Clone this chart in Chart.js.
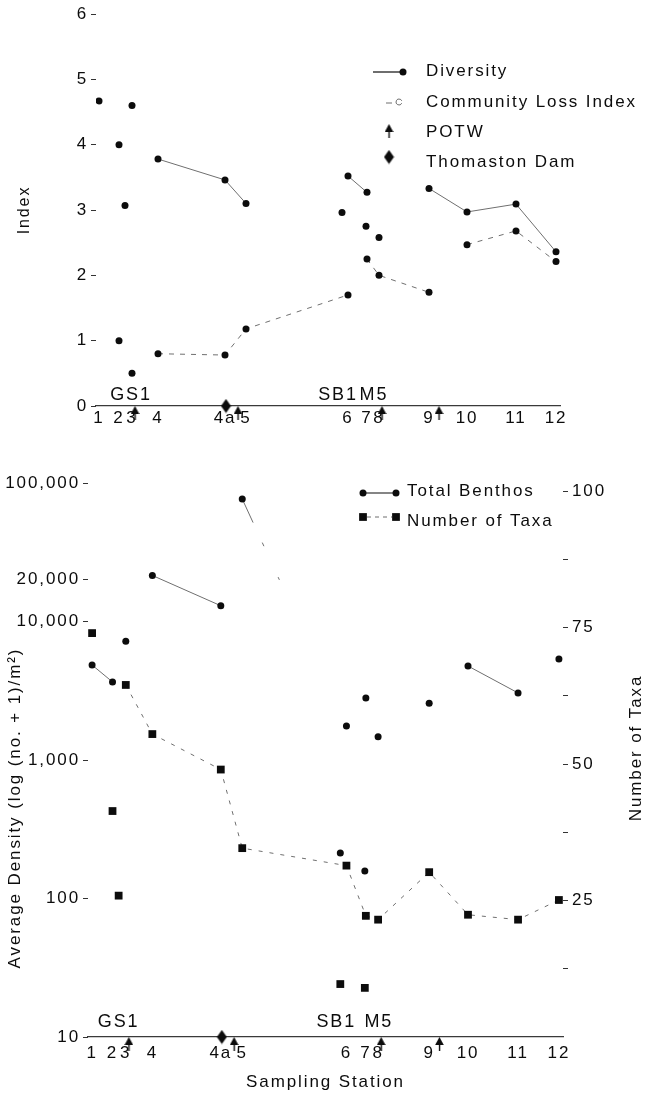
<!DOCTYPE html>
<html>
<head>
<meta charset="utf-8">
<script src="https://cdn.jsdelivr.net/npm/chart.js@4/dist/chart.umd.min.js"></script>
<style>
  html, body { margin: 0; padding: 0; background: #fff; }
  #wrap { position: relative; width: 651px; height: 1096px; }
  #indexChart { position: absolute; left: 0; top: 0; }
  #densityChart { position: absolute; left: 0; top: 440px; }
</style>
</head>
<body>
<div id="wrap">
  <canvas id="indexChart" width="651" height="440"></canvas>
  <canvas id="densityChart" width="651" height="656"></canvas>
</div>
<script>
// Sampling stations along the river and their distance downstream (river miles)
const stations = ['1', '2', '3', '4', '4a', '5', '6', '7', '8', '9', '10', '11', '12'];
const stationMile = [0.9, 2.9, 4.2, 6.8, 13.5, 15.6, 25.8, 27.7, 28.9, 33.9, 37.7, 42.6, 46.6];

// Tributary / side stations
const sideStations = ['GS1', 'SB1', 'M5'];
const sideMile = [3.5, 25.2, 27.6];

// Upper panel: indices per main station
const diversity = [4.67, 4.0, 4.6, 3.78, 3.46, 3.1, 3.52, 3.27, 2.58, 3.33, 2.97, 3.09, 2.36];
const lossIndex = [null, 1.0, 0.5, 0.8, 0.78, 1.18, 1.7, 2.25, 2.0, 1.74, 2.47, 2.68, 2.21];
const sideDiversity = [3.07, 2.96, 2.75];

// Lower panel: total benthos density (no./m2) and number of taxa
const benthos = [4850, 3660, 7200, 21500, 13000, 76700, 1760, 2800, 1470, 2570, 4770, 3050, 5360];
const taxa = [74, 41.4, 64.5, 55.5, 49, 34.6, 31.4, 22.2, 21.5, 30.2, 22.4, 21.5, 25.1];
const sideBenthos = [null, 213, 158];
const sideTaxa = [25.9, 9.7, 9.0];

// Segment i joins station i and i+1: 0 = not joined, 1 = joined, 2 = faint broken trace
const diversityJoin = [0, 0, 0, 1, 1, 0, 1, 0, 0, 1, 1, 1];
const lossJoin = [0, 0, 0, 1, 1, 1, 0, 1, 1, 0, 1, 1];
const benthosJoin = [1, 0, 0, 1, 0, 2, 0, 0, 0, 0, 1, 0];
const taxaJoin = [0, 0, 1, 1, 1, 1, 1, 1, 1, 1, 1, 1];

// Discharge points (POTW) and the dam
const potwMile = [4.5, 14.8, 29.2, 34.9];
const damMile = [13.6];

// Axis ticks
const indexTicks = [0, 1, 2, 3, 4, 5, 6];
const densityTicks = [10, 100, 1000, 10000, 20000, 100000];
const taxaTicks = [12.5, 25, 37.5, 50, 62.5, 75, 87.5, 100];
const taxaLabelled = [25, 50, 75, 100];

const FONT = '"Liberation Sans", Arial, Helvetica, sans-serif';
const SPACING = '1.9px';
const INK = '#0c0c0c';
const LINE = '#6f6f6f';

Chart.defaults.font.family = FONT;
Chart.defaults.font.size = 17;
Chart.defaults.color = INK;

// ---- marker images -------------------------------------------------------
function makeArrow() {
  const c = document.createElement('canvas');
  c.width = 9; c.height = 34;
  const g = c.getContext('2d');
  g.fillStyle = INK;
  g.beginPath();
  g.moveTo(4.5, 17); g.lineTo(8.8, 25); g.lineTo(0.2, 25); g.closePath();
  g.fill();
  g.fillRect(3.9, 25, 1.4, 6);
  return c;
}
function makeDiamond() {
  const c = document.createElement('canvas');
  c.width = 11; c.height = 15;
  const g = c.getContext('2d');
  g.fillStyle = INK;
  g.beginPath();
  g.moveTo(5.5, 0.5); g.lineTo(10.5, 7.5); g.lineTo(5.5, 14.5); g.lineTo(0.5, 7.5); g.closePath();
  g.fill();
  return c;
}
const arrowMark = makeArrow();
const diamondMark = makeDiamond();

// ---- helpers --------------------------------------------------------------
const pts = (xs, ys) => xs.map((x, i) => ({ x, y: ys[i] }));
const joinColor = (join, color) => ctx => (join[ctx.p0DataIndex] ? color : 'rgba(0,0,0,0)');
const joinDash = (join, dash) => ctx => (join[ctx.p0DataIndex] === 2 ? [26, 22, 4, 34, 3, 600] : dash);
const setTicks = list => scale => { scale.ticks = list.map(v => ({ value: v })); };

const letterSpacing = {
  id: 'letterSpacing',
  beforeLayout(chart) { chart.ctx.letterSpacing = SPACING; },
  beforeDraw(chart) { chart.ctx.letterSpacing = SPACING; }
};

function text(ctx, str, x, y, align, size) {
  ctx.font = (size || 17) + 'px ' + FONT;
  ctx.textAlign = align || 'left';
  ctx.textBaseline = 'middle';
  ctx.fillStyle = INK;
  ctx.fillText(str, x, y);
}

// station name labels just above the river axis
function sideLabels(y, names, offsets) {
  return {
    id: 'sideLabels',
    afterDraw(chart) {
      const ctx = chart.ctx;
      const xs = chart.scales.x;
      ctx.save();
      ctx.letterSpacing = SPACING;
      names.forEach((n, i) => {
        const k = sideStations.indexOf(n);
        text(ctx, n, xs.getPixelForValue(sideMile[k]) + offsets[i], y, 'center', 18);
      });
      ctx.restore();
    }
  };
}

// ---- upper panel: Diversity and Community Loss Index ---------------------
const indexLegend = {
  id: 'indexLegend',
  afterDraw(chart) {
    const ctx = chart.ctx;
    const dp = Chart.helpers.drawPoint;
    ctx.save();
    ctx.letterSpacing = SPACING;
    // Diversity
    ctx.strokeStyle = INK; ctx.lineWidth = 1.2;
    ctx.beginPath(); ctx.moveTo(373, 72); ctx.lineTo(403, 72); ctx.stroke();
    ctx.fillStyle = INK;
    dp(ctx, { pointStyle: 'circle', radius: 3.5, borderWidth: 0 }, 403, 72);
    text(ctx, 'Diversity', 426, 71);
    // Community Loss Index
    ctx.strokeStyle = LINE; ctx.lineWidth = 1;
    ctx.beginPath(); ctx.moveTo(386, 103); ctx.lineTo(392, 103); ctx.stroke();
    ctx.beginPath(); ctx.arc(399, 102, 3, 0.4, Math.PI * 2 - 0.4); ctx.stroke();
    text(ctx, 'Community Loss Index', 426, 102);
    // POTW
    ctx.drawImage(arrowMark, 389 - 4.5, 128 - 21);
    text(ctx, 'POTW', 426, 132);
    // Thomaston Dam
    ctx.drawImage(diamondMark, 389 - 5.5, 157 - 7.5);
    text(ctx, 'Thomaston Dam', 426, 162);
    ctx.restore();
  }
};

new Chart(document.getElementById('indexChart'), {
  type: 'line',
  data: {
    datasets: [
      {
        label: 'Diversity',
        data: pts(stationMile, diversity),
        borderColor: LINE, borderWidth: 1,
        segment: { borderColor: joinColor(diversityJoin, LINE) },
        pointRadius: 3.5, pointBackgroundColor: INK, pointBorderWidth: 0
      },
      {
        label: 'Community Loss Index',
        data: pts(stationMile, lossIndex),
        borderColor: LINE, borderWidth: 1, borderDash: [5, 6],
        segment: { borderColor: joinColor(lossJoin, LINE) },
        pointRadius: 3.5, pointBackgroundColor: INK, pointBorderWidth: 0
      },
      {
        label: 'Diversity (side stations)',
        data: pts(sideMile, sideDiversity),
        showLine: false,
        pointRadius: 3.5, pointBackgroundColor: INK, pointBorderWidth: 0
      },
      {
        label: 'POTW',
        data: potwMile.map(x => ({ x, y: 0 })),
        showLine: false, clip: false,
        pointStyle: arrowMark, pointRadius: 5
      },
      {
        label: 'Thomaston Dam',
        data: damMile.map(x => ({ x, y: 0 })),
        showLine: false, clip: false,
        pointStyle: diamondMark, pointRadius: 5
      }
    ]
  },
  options: {
    responsive: false,
    animation: false,
    devicePixelRatio: 1,
    layout: { padding: { top: 14, right: 91, left: 0, bottom: 0 } },
    plugins: { legend: { display: false }, tooltip: { enabled: false } },
    scales: {
      x: {
        type: 'linear', min: 0.6, max: 47,
        afterFit(s) { s.height = 34; },
        afterBuildTicks: setTicks(stationMile),
        ticks: { autoSkip: false, maxRotation: 0, minRotation: 0, padding: 2,
                 callback: (v, i) => stations[i] },
        grid: { display: false, drawTicks: false },
        border: { display: true, dash: [10, 3, 2, 3], color: '#3a3a3a', width: 1.2 }
      },
      y: {
        min: 0, max: 6,
        afterFit(s) { s.width = 96; },
        afterBuildTicks: setTicks(indexTicks),
        ticks: { padding: 3 },
        grid: { drawOnChartArea: false, tickLength: 5, color: '#333' },
        border: { display: false },
        title: { display: true, text: 'Index', padding: { top: 15, bottom: 0 }, font: { size: 16 } }
      }
    }
  },
  plugins: [letterSpacing, indexLegend, sideLabels(395, ['GS1', 'SB1', 'M5'], [6, -4, 8])]
});

// ---- lower panel: Total Benthos and Number of Taxa -----------------------
const densityDecor = {
  id: 'densityDecor',
  afterDraw(chart) {
    const ctx = chart.ctx;
    const dp = Chart.helpers.drawPoint;
    ctx.save();
    ctx.letterSpacing = SPACING;
    // legend
    ctx.strokeStyle = INK; ctx.lineWidth = 1.2;
    ctx.beginPath(); ctx.moveTo(363, 53); ctx.lineTo(396, 53); ctx.stroke();
    ctx.fillStyle = INK;
    dp(ctx, { pointStyle: 'circle', radius: 3.5, borderWidth: 0 }, 363, 53);
    dp(ctx, { pointStyle: 'circle', radius: 3.5, borderWidth: 0 }, 396, 53);
    text(ctx, 'Total Benthos', 407, 51);
    ctx.strokeStyle = LINE; ctx.lineWidth = 1; ctx.setLineDash([4, 4]);
    ctx.beginPath(); ctx.moveTo(367, 77); ctx.lineTo(392, 77); ctx.stroke();
    ctx.setLineDash([]);
    ctx.fillStyle = INK;
    dp(ctx, { pointStyle: 'rect', radius: 5.5, borderWidth: 0 }, 363, 77);
    dp(ctx, { pointStyle: 'rect', radius: 5.5, borderWidth: 0 }, 396, 77);
    text(ctx, 'Number of Taxa', 407, 81);
    // axis titles read bottom-to-top
    ctx.save();
    ctx.translate(15, 368);
    ctx.rotate(-Math.PI / 2);
    text(ctx, 'Average Density (log (no. + 1)/m\u00B2)', 0, 0, 'center', 17);
    ctx.restore();
    ctx.save();
    ctx.translate(636, 308);
    ctx.rotate(-Math.PI / 2);
    text(ctx, 'Number of Taxa', 0, 0, 'center', 17);
    ctx.restore();
    ctx.restore();
  }
};

new Chart(document.getElementById('densityChart'), {
  type: 'line',
  data: {
    datasets: [
      {
        label: 'Total Benthos',
        data: pts(stationMile, benthos),
        yAxisID: 'y',
        borderColor: LINE, borderWidth: 1,
        segment: { borderColor: joinColor(benthosJoin, LINE), borderDash: joinDash(benthosJoin, []) },
        pointRadius: 3.5, pointBackgroundColor: INK, pointBorderWidth: 0
      },
      {
        label: 'Number of Taxa',
        data: pts(stationMile, taxa),
        yAxisID: 'y2',
        borderColor: LINE, borderWidth: 1, borderDash: [4, 7],
        segment: { borderColor: joinColor(taxaJoin, LINE) },
        pointStyle: 'rect', pointRadius: 5.5, pointBackgroundColor: INK, pointBorderWidth: 0
      },
      {
        label: 'Total Benthos (side stations)',
        data: pts(sideMile, sideBenthos),
        yAxisID: 'y', showLine: false,
        pointRadius: 3.5, pointBackgroundColor: INK, pointBorderWidth: 0
      },
      {
        label: 'Number of Taxa (side stations)',
        data: pts(sideMile, sideTaxa),
        yAxisID: 'y2', showLine: false,
        pointStyle: 'rect', pointRadius: 5.5, pointBackgroundColor: INK, pointBorderWidth: 0
      },
      {
        label: 'POTW',
        data: potwMile.map(x => ({ x, y: 10 })),
        yAxisID: 'y', showLine: false, clip: false,
        pointStyle: arrowMark, pointRadius: 5
      },
      {
        label: 'Thomaston Dam',
        data: damMile.map(x => ({ x, y: 10 })),
        yAxisID: 'y', showLine: false, clip: false,
        pointStyle: diamondMark, pointRadius: 5
      }
    ]
  },
  options: {
    responsive: false,
    animation: false,
    devicePixelRatio: 1,
    layout: { padding: { top: 43, right: 0, left: 0, bottom: 0 } },
    plugins: { legend: { display: false }, tooltip: { enabled: false } },
    scales: {
      x: {
        type: 'linear', min: 0.5, max: 47,
        afterFit(s) { s.height = 59; },
        afterBuildTicks: setTicks(stationMile),
        ticks: { autoSkip: false, maxRotation: 0, minRotation: 0, padding: 6,
                 callback: (v, i) => stations[i] },
        grid: { display: false, drawTicks: false },
        border: { display: true, dash: [12, 3, 2, 3], color: '#3a3a3a', width: 1.2 },
        title: { display: true, text: 'Sampling Station', padding: { top: 0, bottom: 3 } }
      },
      y: {
        type: 'logarithmic', position: 'left', min: 10, max: 100000,
        afterFit(s) { s.width = 88; },
        afterBuildTicks: setTicks(densityTicks),
        ticks: { padding: 3, callback: v => Number(v).toLocaleString('en-US') },
        grid: { drawOnChartArea: false, tickLength: 5, color: '#333' },
        border: { display: false }
      },
      y2: {
        type: 'linear', position: 'right', min: 0, max: 101.5,
        afterFit(s) { s.width = 88; },
        afterBuildTicks: setTicks(taxaTicks),
        ticks: { padding: 4, callback: v => (taxaLabelled.includes(v) ? String(v) : '') },
        grid: { drawOnChartArea: false, tickLength: 5, color: '#333' },
        border: { display: false }
      }
    }
  },
  plugins: [letterSpacing, densityDecor, sideLabels(582, ['GS1', 'SB1', 'M5'], [0, -4, 14])]
});
</script>
</body>
</html>
